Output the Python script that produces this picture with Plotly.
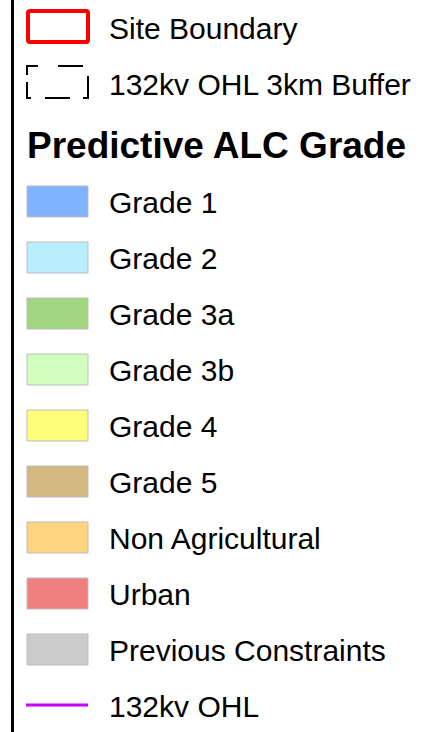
import plotly.graph_objects as go

# ---- data ----
header_labels = ["Site Boundary", "132kv OHL 3km Buffer"]
title_text = "Predictive ALC Grade"
grade_labels = ["Grade 1", "Grade 2", "Grade 3a", "Grade 3b", "Grade 4",
                "Grade 5", "Non Agricultural", "Urban", "Previous Constraints"]
line_label = "132kv OHL"

# ---- styles ----
grade_colors = ["#80B3FF", "#B8EEFF", "#A1D580", "#D3FFBE", "#FFFF7A",
                "#D4B881", "#FFD480", "#F08080", "#CCCCCC"]
FONT = "Liberation Sans, Arial, sans-serif"
W, H = 445, 732

fig = go.Figure()
shapes = []
annotations = []

# left vertical rule
shapes.append(dict(type="line", x0=12.5, x1=12.5, y0=0, y1=H,
                   line=dict(color="black", width=3)))

# site boundary box (red)
shapes.append(dict(type="path",
                   path="M 30,11 L 86,11 Q 88,11 88,13 L 88,40 Q 88,42 86,42 L 30,42 Q 28,42 28,40 L 28,13 Q 28,11 30,11 Z",
                   line=dict(color="#FF0000", width=4), fillcolor="rgba(0,0,0,0)"))

# dashed buffer box
dash_path = ("M 26,66 L 38,66 M 58,66 L 83,66 "
             "M 27,66 L 27,75 M 27,82 L 27,98 L 31,98 "
             "M 45,98 L 70,98 M 83,98 L 88,98 L 88,76")
shapes.append(dict(type="path", path=dash_path,
                   line=dict(color="black", width=2)))

annotations.append(dict(x=107, y=28, text=header_labels[0]))
annotations.append(dict(x=107, y=84, text=header_labels[1]))
annotations.append(dict(x=25, y=145, text="<b>" + title_text + "</b>",
                        font=dict(family=FONT, size=37, color="black")))

y0 = 201.5
step = 56
for i, (lab, col) in enumerate(zip(grade_labels, grade_colors)):
    yc = y0 + step * i
    shapes.append(dict(type="rect", x0=27, x1=88, y0=yc - 15.5, y1=yc + 15.5,
                       fillcolor=col, line=dict(color="#BDBDBD", width=1)))
    annotations.append(dict(x=107, y=yc + 1, text=lab))

yl = y0 + step * len(grade_labels)
shapes.append(dict(type="line", x0=26, x1=88, y0=yl - 0.5, y1=yl - 0.5,
                   line=dict(color="#CC00FF", width=3)))
annotations.append(dict(x=107, y=yl + 1, text=line_label))

for a in annotations:
    a.setdefault("font", dict(family=FONT, size=30, color="black"))
    a.update(xref="x", yref="y", xanchor="left", yanchor="middle",
             showarrow=False)

fig.add_trace(go.Scatter(x=[0, W], y=[0, H], mode="markers",
                         marker=dict(opacity=0), hoverinfo="skip",
                         showlegend=False))
fig.update_layout(
    width=W, height=H, margin=dict(l=0, r=0, t=0, b=0),
    paper_bgcolor="white", plot_bgcolor="white",
    xaxis=dict(range=[0, W], visible=False, fixedrange=True),
    yaxis=dict(range=[H, 0], visible=False, fixedrange=True),
    shapes=shapes, annotations=annotations, showlegend=False,
)
fig.write_html("out.html", config={"displayModeBar": False},
               post_script="document.body.style.margin='0';document.body.style.overflow='hidden';")
